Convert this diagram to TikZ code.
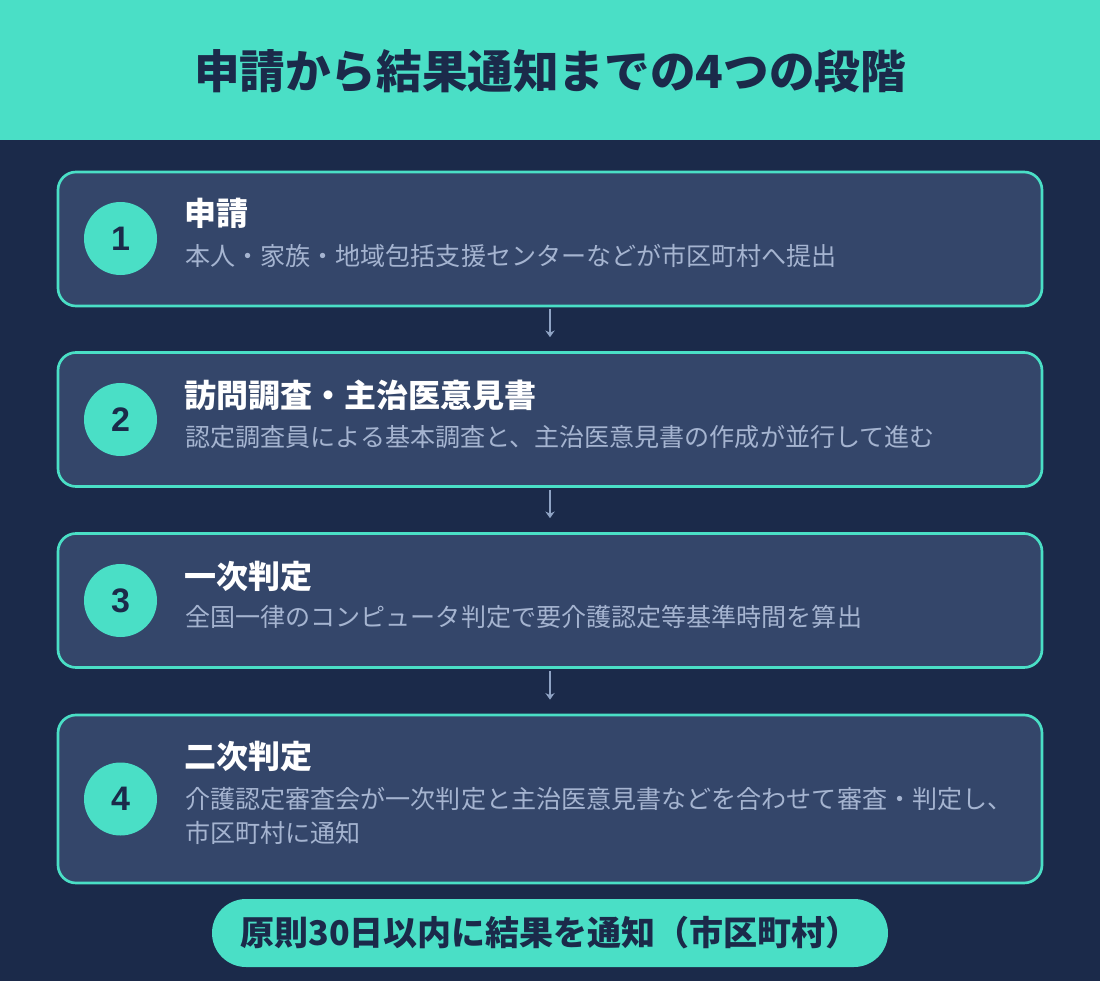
\documentclass[tikz,border=0pt]{standalone}
\usepackage{fontspec}
\setmainfont{Noto Sans CJK JP}
\newfontfamily\digitfont{Liberation Sans}
\usetikzlibrary{arrows.meta}
\definecolor{navy}{HTML}{1B2A4A}
\definecolor{mint}{HTML}{4ADFC6}
\definecolor{panel}{HTML}{34466A}
\definecolor{haze}{HTML}{A5B4D0}
\definecolor{tipgray}{HTML}{8FA3C4}
\newcommand{\fs}[1]{\fontsize{#1}{1.36\dimexpr#1pt\relax}\selectfont}

\begin{document}
\begin{tikzpicture}[x=0.75pt,y=-0.75pt,
    box/.style={draw=mint,fill=panel,line width=2pt,rounded corners=13.5pt,minimum width=738pt},
    num/.style={circle,fill=mint,minimum size=54.75pt,inner sep=0pt,text=navy,font=\digitfont\fs{25.5}\bfseries},
    ttl/.style={anchor=west,inner sep=0pt,text=white,font=\fs{24}\bfseries},
    dsc/.style={anchor=west,inner sep=0pt,text=haze,align=left,font=\fs{18.8}},
    arr/.style={draw=tipgray,line width=1.3pt,-{Stealth[length=5pt,width=7pt]},shorten <=1.5pt,shorten >=10.5pt},
    pill/.style={fill=mint,rounded corners=25.5pt,minimum width=507pt,minimum height=51pt,text=navy,font=\fs{25.5}\bfseries}]
    \useasboundingbox (0,0) rectangle (1100,981);
    \fill[navy] (0,0) rectangle (1100,981);
    \fill[mint] (0,0) rectangle (1100,140);
    \node[text=navy,font=\fs{34.2}\bfseries] (title) at (550,71) {申請から結果通知までの4つの段階};

    % step 1
    \node[box,minimum height=100.5pt] (s1) at (550,239) {};
    \node[num] (n1) at (120.5,238.5) {1};
    \node[ttl] (t1) at (184.5,213.5) {申請};
    \node[dsc] (d1) at (185,256) {本人・家族・地域包括支援センターなどが市区町村へ提出};
    % step 2
    \node[box,minimum height=100.5pt] (s2) at (550,419.5) {};
    \node[num] (n2) at (120.5,419.5) {2};
    \node[ttl] (t2) at (184.5,395) {訪問調査・主治医意見書};
    \node[dsc] (d2) at (185,437) {認定調査員による基本調査と、主治医意見書の作成が並行して進む};
    % step 3
    \node[box,minimum height=100.5pt] (s3) at (550,600.5) {};
    \node[num] (n3) at (120.5,600.5) {3};
    \node[ttl] (t3) at (184.5,576) {一次判定};
    \node[dsc] (d3) at (185,617) {全国一律のコンピュータ判定で要介護認定等基準時間を算出};
    % step 4
    \node[box,minimum height=126pt] (s4) at (550,799) {};
    \node[num] (n4) at (120.5,799) {4};
    \node[ttl] (t4) at (184.5,756) {二次判定};
    \node[dsc] (d4) at (185,816) {介護認定審査会が一次判定と主治医意見書などを合わせて審査・判定し、\\市区町村に通知};

    \foreach \a/\b in {s1/s2, s2/s3, s3/s4}
      \draw[arr] (\a) -- (\b);

    \node[pill] (p) at (550,933) {原則30日以内に結果を通知（市区町村）};
\end{tikzpicture}
\end{document}
